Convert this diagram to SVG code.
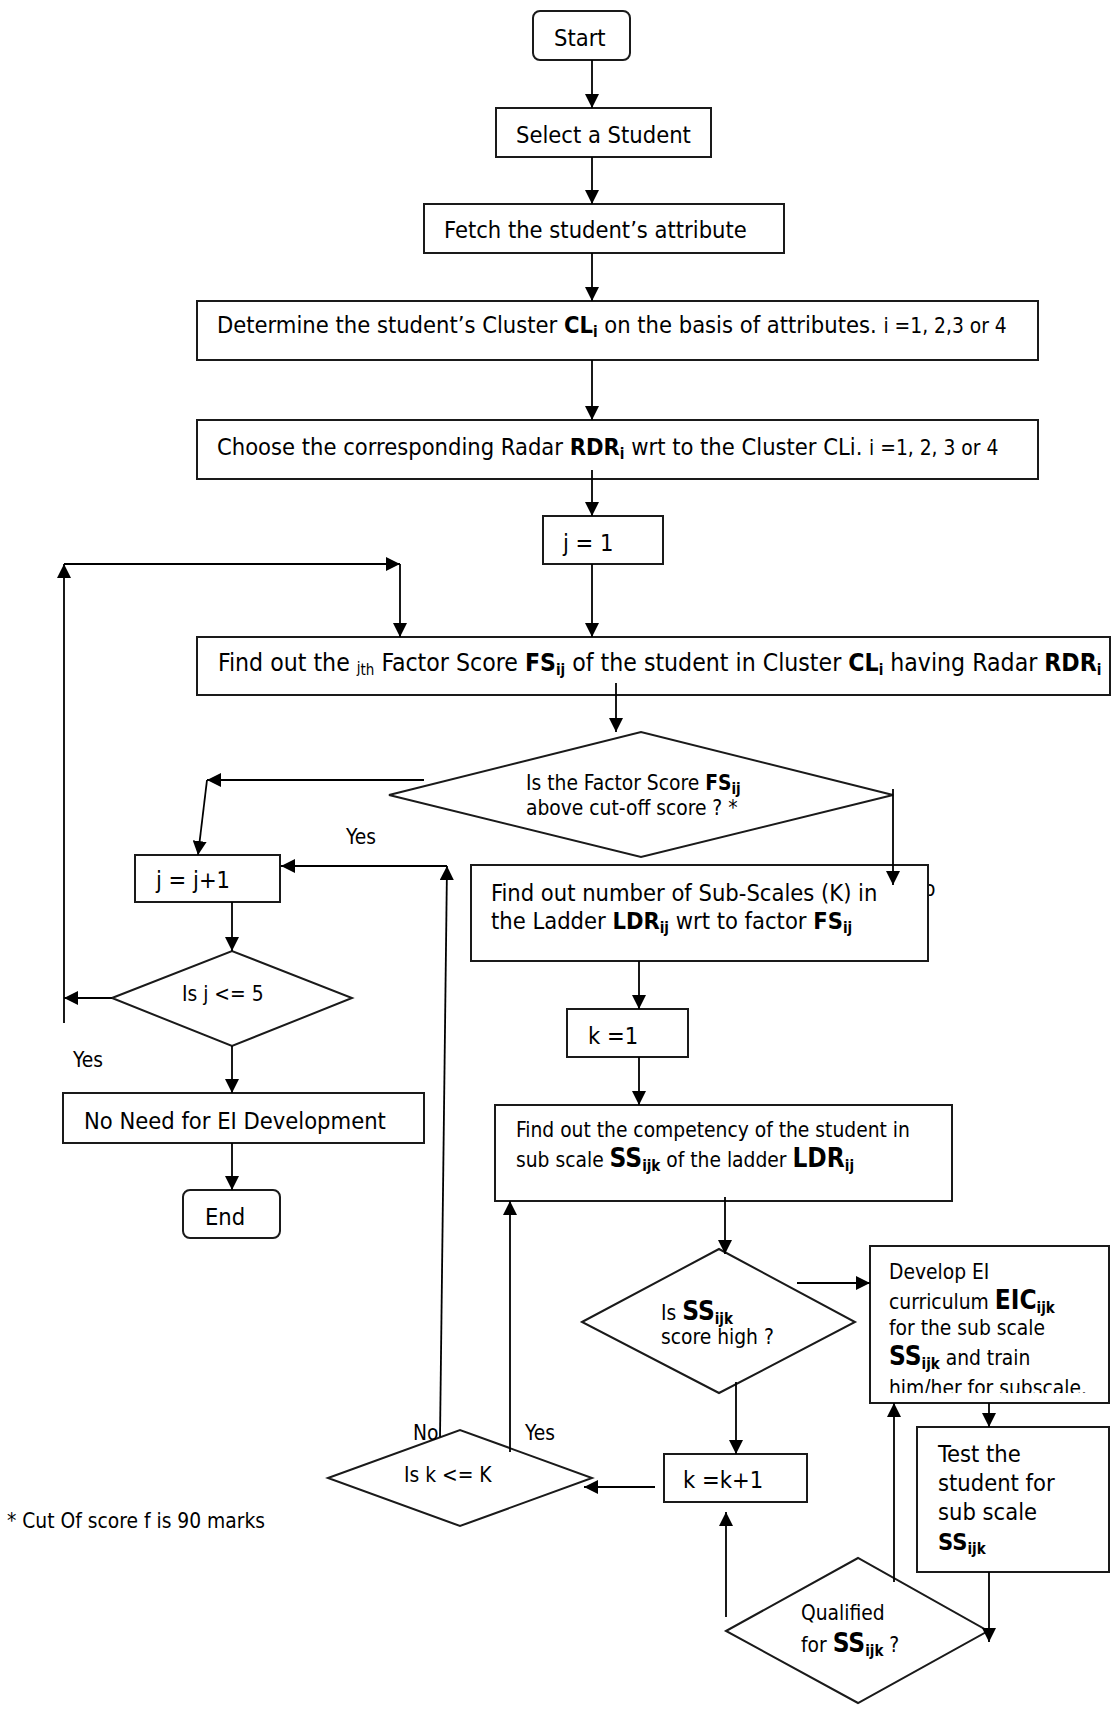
<svg xmlns="http://www.w3.org/2000/svg" width="1112" height="1712" viewBox="0 0 1112 1712">
  <style>
    .t { font-family: "DejaVu Sans Condensed", "DejaVu Sans", sans-serif; font-size: 23.5px; fill: #000; }
    .sm { font-size: 20.8px; }
    .wide { font-size: 24.6px; }
    .b { font-weight: bold; }
    .big { font-size: 26px; }
    .sub { font-size: 15px; }
    .box { fill: #fff; stroke: #1a1a1a; stroke-width: 2; }
    .arr { fill: none; stroke: #000; stroke-width: 1.8; marker-end: url(#ah); }
  </style>
  <defs>
    <marker id="ah" markerWidth="14" markerHeight="14" refX="14" refY="7" orient="auto" markerUnits="userSpaceOnUse">
      <path d="M0,0 L14,7 L0,14 z" fill="#000"/>
    </marker>
    <clipPath id="devClip">
      <rect x="870" y="1246" width="239" height="147"/>
    </clipPath>
  </defs>
  <rect width="1112" height="1712" fill="#fff"/>

  <!-- label partly hidden behind the sub-scale box -->
  <text class="t sm" x="910" y="896">No</text>

  <g id="start">
    <rect class="box" x="533" y="11" width="97" height="49" rx="7"/>
    <text class="t" x="554" y="46">Start</text>
  </g>
  <g id="select-student">
    <rect class="box" x="496" y="108" width="215" height="49"/>
    <text class="t" x="516" y="143">Select a Student</text>
  </g>
  <g id="fetch-attribute">
    <rect class="box" x="424" y="204" width="360" height="49"/>
    <text class="t" x="444" y="238">Fetch the student’s attribute</text>
  </g>
  <g id="determine-cluster">
    <rect class="box" x="197" y="301" width="841" height="59"/>
    <text class="t" x="217" y="333">Determine the student’s Cluster <tspan class="b">CL</tspan><tspan class="b sub" dy="4">i</tspan><tspan dy="-4"> on the basis of attributes. </tspan><tspan class="sm">i =1, 2,3 or 4</tspan></text>
  </g>
  <g id="choose-radar">
    <rect class="box" x="197" y="420" width="841" height="59"/>
    <text class="t" x="217" y="455">Choose the corresponding Radar <tspan class="b">RDR</tspan><tspan class="b sub" dy="4">i</tspan><tspan dy="-4"> wrt to the Cluster CLi. </tspan><tspan class="sm">i =1, 2, 3 or 4</tspan></text>
  </g>
  <g id="j-init">
    <rect class="box" x="543" y="516" width="120" height="48"/>
    <text class="t" x="563" y="551">j = 1</text>
  </g>
  <g id="find-factor-score">
    <rect class="box" x="197" y="637" width="913" height="58"/>
    <text class="t wide" x="218" y="671">Find out the <tspan class="sub" dy="2">j</tspan><tspan class="sub" dy="2">th</tspan><tspan dy="-4"> Factor Score </tspan><tspan class="b">FS</tspan><tspan class="b sub" dy="4">ij</tspan><tspan dy="-4"> of the student in Cluster </tspan><tspan class="b">CL</tspan><tspan class="b sub" dy="4">i</tspan><tspan dy="-4"> having Radar </tspan><tspan class="b">RDR</tspan><tspan class="b sub" dy="4">i</tspan></text>
  </g>
  <g id="cutoff-decision">
    <polygon class="box" points="389,795 641,732 893,795 641,857"/>
    <text class="t sm" x="526" y="790">Is the Factor Score <tspan class="b">FS</tspan><tspan class="b sub" dy="4">ij</tspan></text>
    <text class="t sm" x="526" y="815">above cut-off score ? *</text>
  </g>
  <g id="j-increment">
    <rect class="box" x="135" y="855" width="145" height="47"/>
    <text class="t" x="156" y="888">j = j+1</text>
  </g>
  <g id="j-check">
    <polygon class="box" points="112,998 232,951 352,998 232,1046"/>
    <text class="t sm" x="182" y="1001">Is j &lt;= 5</text>
  </g>
  <g id="no-need">
    <rect class="box" x="63" y="1093" width="361" height="50"/>
    <text class="t" x="84" y="1129">No Need for EI Development</text>
  </g>
  <g id="end">
    <rect class="box" x="183" y="1190" width="97" height="48" rx="7"/>
    <text class="t" x="205" y="1225">End</text>
  </g>
  <g id="find-subscales">
    <rect class="box" x="471" y="865" width="457" height="96"/>
    <text class="t" x="491" y="901">Find out number of Sub-Scales (K) in</text>
    <text class="t" x="491" y="929">the Ladder <tspan class="b">LDR</tspan><tspan class="b sub" dy="4">ij</tspan><tspan dy="-4"> wrt to factor </tspan><tspan class="b">FS</tspan><tspan class="b sub" dy="4">ij</tspan></text>
  </g>
  <g id="k-init">
    <rect class="box" x="567" y="1009" width="121" height="48"/>
    <text class="t" x="588" y="1044">k =1</text>
  </g>
  <g id="find-competency">
    <rect class="box" x="495" y="1105" width="457" height="96"/>
    <text class="t sm" x="516" y="1137">Find out the competency of the student in</text>
    <text class="t sm" x="516" y="1167">sub scale <tspan class="b big">SS</tspan><tspan class="b sub" dy="4">ijk</tspan><tspan dy="-4"> of the ladder </tspan><tspan class="b big">LDR</tspan><tspan class="b sub" dy="4">ij</tspan></text>
  </g>
  <g id="score-high-decision">
    <polygon class="box" points="582,1322 719,1249 855,1322 719,1393"/>
    <text class="t sm" x="661" y="1320">Is <tspan class="b big">SS</tspan><tspan class="b sub" dy="4">ijk</tspan></text>
    <text class="t sm" x="661" y="1344">score high ?</text>
  </g>
  <g id="develop-curriculum">
    <rect class="box" x="870" y="1246" width="239" height="157"/>
    <g clip-path="url(#devClip)">
      <text class="t sm" x="889" y="1279">Develop EI</text>
      <text class="t sm" x="889" y="1309">curriculum <tspan class="b big">EIC</tspan><tspan class="b sub" dy="4">ijk</tspan></text>
      <text class="t sm" x="889" y="1335">for the sub scale</text>
      <text class="t sm" x="889" y="1365"><tspan class="b big">SS</tspan><tspan class="b sub" dy="4">ijk</tspan><tspan dy="-4"> and train</tspan></text>
      <text class="t sm" x="889" y="1395">him/her for subscale.</text>
    </g>
  </g>
  <g id="test-student">
    <rect class="box" x="917" y="1427" width="192" height="145"/>
    <text class="t" x="938" y="1462">Test the</text>
    <text class="t" x="938" y="1491">student for</text>
    <text class="t" x="938" y="1520">sub scale</text>
    <text class="t" x="938" y="1550"><tspan class="b">SS</tspan><tspan class="b sub" dy="4">ijk</tspan></text>
  </g>
  <g id="qualified-decision">
    <polygon class="box" points="726,1631 858,1558 988,1631 858,1703"/>
    <text class="t sm" x="801" y="1620">Qualified</text>
    <text class="t sm" x="801" y="1652">for <tspan class="b big">SS</tspan><tspan class="b sub" dy="4">ijk</tspan><tspan dy="-4"> ?</tspan></text>
  </g>
  <g id="k-increment">
    <rect class="box" x="664" y="1454" width="143" height="48"/>
    <text class="t" x="683" y="1488">k =k+1</text>
  </g>
  <g id="k-check">
    <polygon class="box" points="328,1478 460,1430 592,1478 460,1526"/>
    <text class="t sm" x="404" y="1482">Is k &lt;= K</text>
  </g>

  <g id="labels">
    <text class="t sm" x="346" y="844">Yes</text>
    <text class="t sm" x="73" y="1067">Yes</text>
    <text class="t sm" x="413" y="1440">No</text>
    <text class="t sm" x="525" y="1440">Yes</text>
    <text class="t sm" x="7" y="1528">* Cut Of score f is 90 marks</text>
  </g>

  <g id="connectors">
    <line class="arr" x1="592" y1="60" x2="592" y2="108"/>
    <line class="arr" x1="592" y1="157" x2="592" y2="204"/>
    <line class="arr" x1="592" y1="253" x2="592" y2="301"/>
    <line class="arr" x1="592" y1="360" x2="592" y2="420"/>
    <line class="arr" x1="592" y1="470" x2="592" y2="516"/>
    <line class="arr" x1="592" y1="564" x2="592" y2="637"/>
    <!-- outer loop back to the factor score step -->
    <line class="arr" x1="64" y1="1023" x2="64" y2="564"/>
    <line class="arr" x1="64" y1="564" x2="400" y2="564"/>
    <line class="arr" x1="400" y1="564" x2="400" y2="637"/>
    <line class="arr" x1="616" y1="683" x2="616" y2="732"/>
    <!-- cut-off decision branches -->
    <line class="arr" x1="424" y1="780" x2="207" y2="780"/>
    <line class="arr" x1="207" y1="780" x2="198" y2="855"/>
    <line class="arr" x1="893" y1="789" x2="893" y2="885"/>
    <line class="arr" x1="232" y1="902" x2="232" y2="951"/>
    <line class="arr" x1="112" y1="998" x2="64" y2="998"/>
    <line class="arr" x1="232" y1="1046" x2="232" y2="1093"/>
    <line class="arr" x1="232" y1="1143" x2="232" y2="1190"/>
    <line class="arr" x1="639" y1="961" x2="639" y2="1009"/>
    <line class="arr" x1="639" y1="1057" x2="639" y2="1105"/>
    <line class="arr" x1="725" y1="1197" x2="725" y2="1254"/>
    <line class="arr" x1="797" y1="1283" x2="870" y2="1283"/>
    <line class="arr" x1="736" y1="1382" x2="736" y2="1454"/>
    <line class="arr" x1="989" y1="1403" x2="989" y2="1427"/>
    <line class="arr" x1="989" y1="1572" x2="989" y2="1642"/>
    <line class="arr" x1="894" y1="1582" x2="894" y2="1403"/>
    <line class="arr" x1="726" y1="1617" x2="726" y2="1512"/>
    <line class="arr" x1="655" y1="1487" x2="584" y2="1487"/>
    <!-- inner loop over sub scales -->
    <line class="arr" x1="510" y1="1452" x2="510" y2="1201"/>
    <line class="arr" x1="440" y1="1437" x2="447" y2="866"/>
    <line class="arr" x1="447" y1="866" x2="281" y2="866"/>
  </g>
</svg>
